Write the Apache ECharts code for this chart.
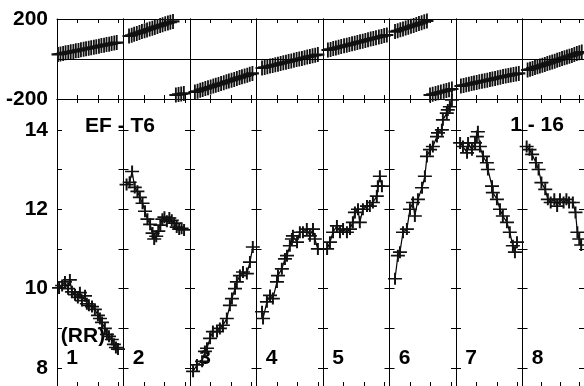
<!DOCTYPE html>
<html>
<head>
<meta charset="utf-8">
<script src="https://cdn.jsdelivr.net/npm/echarts@6/dist/echarts.min.js"></script>
<style>
html,body{margin:0;padding:0;background:#fff;}
#chart{width:584px;height:386px;}
</style>
</head>
<body>
<div id="chart"></div>
<script>
// ---- data: phase (top panel), one array per segment, [t, degrees]
const ph1 = [[0.05,23],[0.17,25],[0.30,28],[0.42,31],[0.55,33],[0.67,36],[0.80,38],[0.92,41],[1.05,43],[1.17,46],[1.30,49],[1.42,51],[1.55,54],[1.67,56],[1.80,59],[1.92,61],[2.05,64],[2.17,67],[2.30,69],[2.42,72],[2.55,74],[2.67,77],[2.80,80],[2.92,82]];
const ph2 = [[0.27,115],[0.40,119],[0.52,124],[0.65,128],[0.78,132],[0.90,137],[1.03,141],[1.15,145],[1.28,150],[1.41,154],[1.53,158],[1.66,163],[1.79,167],[1.91,171],[2.04,176],[2.17,180],[2.29,184],[2.42,188],null,[2.56,-180],[2.69,-177],[2.82,-175],[2.95,-172]];
const ph3 = [[0.24,-165],[0.37,-161],[0.50,-156],[0.62,-152],[0.75,-148],[0.88,-144],[1.01,-140],[1.14,-135],[1.26,-131],[1.39,-127],[1.52,-123],[1.65,-119],[1.78,-114],[1.90,-110],[2.03,-106],[2.16,-102],[2.29,-97],[2.42,-93],[2.54,-89],[2.67,-85],[2.80,-81],[2.92,-76],[3.05,-72]];
const ph4 = [[0.27,-45],[0.40,-42],[0.53,-39],[0.66,-35],[0.79,-32],[0.92,-29],[1.05,-26],[1.18,-22],[1.31,-19],[1.44,-16],[1.57,-13],[1.70,-10],[1.83,-6],[1.96,-3],[2.09,0],[2.22,3],[2.35,6],[2.48,10],[2.61,13],[2.74,16],[2.87,19],[3.00,22]];
const ph5 = [[0.24,45],[0.37,48],[0.50,52],[0.63,55],[0.76,59],[0.89,62],[1.03,66],[1.16,69],[1.29,72],[1.42,76],[1.55,79],[1.68,83],[1.81,86],[1.94,89],[2.07,93],[2.20,96],[2.33,100],[2.46,103],[2.59,106],[2.73,110],[2.86,113],[2.99,117],[3.12,120]];
const ph6 = [[0.27,137],[0.40,141],[0.53,146],[0.66,150],[0.79,155],[0.92,159],[1.05,164],[1.18,168],[1.31,172],[1.44,177],[1.57,181],[1.70,186],[1.83,190],null,[1.98,-180],[2.11,-176],[2.25,-172],[2.38,-169],[2.51,-165],[2.65,-161],[2.78,-158],[2.91,-154],[3.05,-150]];
const ph7 = [[0.24,-135],[0.37,-132],[0.50,-129],[0.63,-126],[0.76,-123],[0.88,-120],[1.01,-117],[1.14,-114],[1.27,-111],[1.40,-109],[1.53,-106],[1.66,-103],[1.78,-100],[1.91,-97],[2.04,-94],[2.17,-91],[2.30,-88],[2.43,-85],[2.56,-83],[2.68,-80],[2.81,-77],[2.94,-75],[3.07,-72]];
const ph8 = [[0.27,-55],[0.40,-51],[0.53,-47],[0.66,-43],[0.79,-39],[0.92,-35],[1.05,-31],[1.18,-27],[1.31,-23],[1.44,-19],[1.57,-15],[1.70,-11],[1.83,-6],[1.96,-2],[2.09,2],[2.22,6],[2.35,10],[2.48,14],[2.61,18],[2.74,22],[2.87,27],[3.00,31],[3.13,35]];

// ---- data: RR interval (bottom panel), one array per segment, [t, value]
const rr1 = [[0.10,10.02],[0.25,10.08],[0.39,10.17],[0.54,10.0],[0.63,10.22],[0.73,9.92],[0.88,9.85],[1.02,9.78],[1.12,9.9],[1.22,9.7],[1.37,9.82],[1.46,9.62],[1.56,9.58],[1.71,9.55],[1.85,9.48],[2.0,9.33],[2.1,9.25],[2.2,9.15],[2.34,9.0],[2.44,8.85],[2.54,8.8],[2.68,8.72],[2.78,8.6],[2.88,8.52],[2.98,8.48]];
const rr2 = [[0.15,12.62],[0.30,12.68],[0.42,12.95],[0.55,12.55],[0.68,12.45],[0.80,12.3],[0.93,12.15],[1.05,11.95],[1.17,11.75],[1.30,11.62],[1.42,11.4],[1.50,11.25],[1.60,11.32],[1.70,11.45],[1.80,11.6],[1.90,11.75],[2.0,11.8],[2.12,11.7],[2.24,11.78],[2.36,11.72],[2.48,11.65],[2.60,11.55],[2.72,11.5],[2.84,11.52],[2.96,11.48]];
const rr3 = [[0.15,7.92],[0.34,8.08],[0.59,8.17],[0.73,8.42],[0.83,8.5],[0.98,8.75],[1.12,8.92],[1.32,8.92],[1.46,9.0],[1.61,9.08],[1.80,9.25],[1.95,9.58],[2.05,9.75],[2.20,10.0],[2.29,10.17],[2.44,10.33],[2.59,10.42],[2.78,10.38],[2.93,10.67],[3.07,11.05]];
const rr4 = [[0.27,9.42],[0.32,9.25],[0.51,9.67],[0.66,9.83],[0.80,9.75],[1.0,10.17],[1.05,10.33],[1.24,10.5],[1.39,10.75],[1.49,10.83],[1.63,11.08],[1.73,11.25],[1.78,11.33],[1.98,11.17],[2.12,11.42],[2.27,11.42],[2.46,11.5],[2.61,11.33],[2.76,11.5],[2.85,11.25],[3.0,11.0]];
const rr5 = [[0.20,11.0],[0.34,11.17],[0.49,11.42],[0.68,11.58],[0.83,11.42],[0.98,11.5],[1.17,11.42],[1.32,11.5],[1.46,11.67],[1.56,11.92],[1.71,12.0],[1.80,11.67],[1.95,12.0],[2.15,12.08],[2.29,12.08],[2.44,12.17],[2.63,12.33],[2.68,12.58],[2.78,12.83],[2.88,12.58]];
const rr6 = [[0.27,10.25],[0.41,10.83],[0.51,10.92],[0.66,11.42],[0.85,11.5],[1.0,12.0],[1.15,12.17],[1.24,11.83],[1.39,12.25],[1.59,12.54],[1.73,12.83],[1.83,13.33],[1.98,13.5],[2.12,13.58],[2.32,13.83],[2.37,13.92],[2.56,14.0],[2.61,14.25],[2.80,14.42],[2.85,14.5],[2.95,14.58],[3.05,14.75]];
const rr7 = [[0.20,13.67],[0.34,13.58],[0.54,13.42],[0.59,13.67],[0.78,13.5],[0.93,13.67],[1.02,13.83],[1.07,13.95],[1.17,13.58],[1.32,13.33],[1.51,13.17],[1.56,13.0],[1.76,12.58],[1.80,12.42],[2.0,12.25],[2.15,12.0],[2.29,11.83],[2.49,11.67],[2.63,11.42],[2.78,11.08],[2.88,10.92],[2.98,11.17]];
const rr8 = [[0.22,13.58],[0.37,13.5],[0.51,13.38],[0.71,13.17],[0.85,13.0],[1.0,12.67],[1.20,12.5],[1.34,12.25],[1.49,12.17],[1.68,12.25],[1.83,12.08],[1.98,12.25],[2.17,12.17],[2.32,12.25],[2.46,12.17],[2.66,12.17],[2.80,11.92],[2.90,11.42],[3.0,11.25],[3.1,11.1]];

const phaseSegments = [ph1, ph2, ph3, ph4, ph5, ph6, ph7, ph8];
const rrSegments = [rr1, rr2, rr3, rr4, rr5, rr6, rr7, rr8];
const segLabels = ['1','2','3','4','5','6','7','8'];
const phaseTicks = [-200, 0, 200];
const phaseTickLabels = [-200, 200];
const rrTicks = [8, 9, 10, 11, 12, 13, 14];
const rrTickLabels = [8, 10, 12, 14];
const titleLeft = 'EF - T6';
const titleRight = '1 - 16';
const subLabel = '(RR)';

// ---- layout
const LEFT0 = 57, SEG_W = 66.5, T_MAX = 3.25;
const FONT = 'Liberation Sans, Arial, sans-serif';
const plusPath = 'path://M0,4.3L10,4.3L10,5.7L0,5.7Z M4.3,0L5.7,0L5.7,10L4.3,10Z';

const grids = [], xAxes = [], yAxes = [], series = [];
function addPanel(top, height, ymin, ymax, ticks, labels, datasets, symSize, zeroLine) {
  datasets.forEach((data, k) => {
    const g = grids.length;
    grids.push({left: LEFT0 + k * SEG_W, top: top, width: SEG_W, height: height, containLabel: false});
    ['bottom', 'top'].forEach(pos => {
      xAxes.push({
        gridIndex: g, type: 'value', min: 0, max: T_MAX, interval: 1, position: pos,
        axisLine: {show: true, onZero: false, lineStyle: {color: '#000', width: 1}},
        axisTick: {show: true, inside: true, length: 4, lineStyle: {color: '#000', width: 1}},
        axisLabel: {show: false}, splitLine: {show: false}
      });
    });
    ['left', 'right'].forEach(pos => {
      const isMainLeft = pos === 'left' && k === 0;
      yAxes.push({
        gridIndex: g, type: 'value', min: ymin, max: ymax, position: pos,
        axisLine: {show: true, onZero: false, lineStyle: {color: '#000', width: 1}},
        axisTick: {show: true, inside: true, length: 5, customValues: ticks, lineStyle: {color: '#000', width: 1}},
        axisLabel: {show: isMainLeft, customValues: labels, margin: 9,
          fontFamily: FONT, fontWeight: 'bold', fontSize: 21, color: '#000'},
        splitLine: {show: false}
      });
    });
    series.push({
      type: 'line', xAxisIndex: 2 * g, yAxisIndex: 2 * g, data: data,
      symbol: plusPath, symbolSize: symSize, showSymbol: true, showAllSymbol: true,
      connectNulls: false, clip: false, animation: false, z: 3,
      itemStyle: {color: '#111', opacity: 1},
      lineStyle: {color: '#000', width: 1.2}
    });
    if (zeroLine) {
      series.push({
        type: 'line', xAxisIndex: 2 * g, yAxisIndex: 2 * g, data: [], silent: true, animation: false,
        markLine: {symbol: 'none', silent: true, label: {show: false},
          lineStyle: {color: '#000', width: 1, type: 'solid'}, data: [{yAxis: 0}]}
      });
    }
  });
}
addPanel(19, 80, -200, 200, phaseTicks, phaseTickLabels, phaseSegments, [13, 15], true);
addPanel(99, 287, 7.55, 14.775, rrTicks, rrTickLabels, rrSegments, [14, 12], false);

const textStyle = (t, x, y) => ({
  type: 'text', x: x, y: y, z: 1,
  style: {text: t, fill: '#000', font: 'bold 21px ' + FONT, textAlign: 'center', textVerticalAlign: 'middle'}
});
const graphics = [
  textStyle(titleLeft, 120, 126),
  textStyle(titleRight, 537, 125),
  textStyle(subLabel, 83, 336)
];
segLabels.forEach((s, k) => graphics.push(textStyle(s, LEFT0 + k * SEG_W + 15, 358)));

const chart = echarts.init(document.getElementById('chart'), null, {renderer: 'canvas'});
chart.setOption({
  backgroundColor: '#fff',
  animation: false,
  grid: grids, xAxis: xAxes, yAxis: yAxes, series: series,
  graphic: graphics
});
</script>
</body>
</html>
